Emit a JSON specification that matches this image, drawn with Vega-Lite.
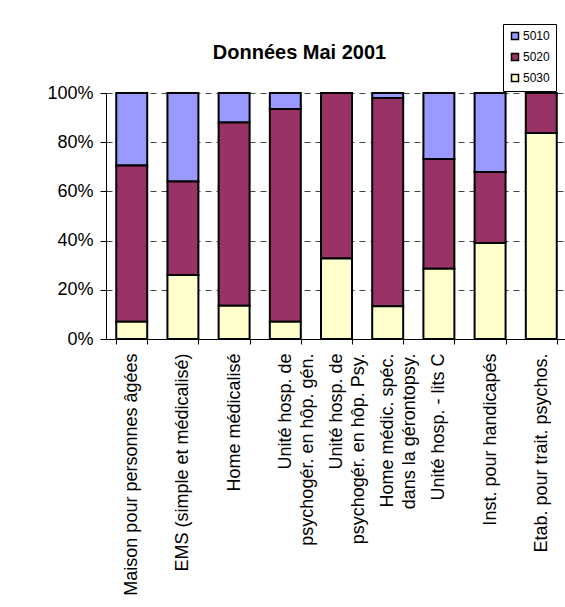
{
  "$schema": "https://vega.github.io/schema/vega-lite/v6.json",
  "autosize": "none",
  "width": 461,
  "height": 246,
  "padding": {"left": 106, "top": 93, "right": 0, "bottom": 268},
  "background": "white",
  "config": {
    "font": "Liberation Sans",
    "view": {"stroke": null}
  },
  "title": {
    "text": "Données Mai 2001",
    "font": "Liberation Sans",
    "fontSize": 20,
    "fontWeight": "bold",
    "color": "black",
    "anchor": "middle",
    "frame": "group",
    "dx": -37,
    "baseline": "alphabetic",
    "offset": -55
  },
  "data": {
    "values": [
      {"category": "Maison pour personnes âgées", "idx": 1, "series": "5010", "pct": 29.5},
      {"category": "Maison pour personnes âgées", "idx": 1, "series": "5020", "pct": 63.5},
      {"category": "Maison pour personnes âgées", "idx": 1, "series": "5030", "pct": 7},
      {"category": "EMS (simple et médicalisé)", "idx": 2, "series": "5010", "pct": 36},
      {"category": "EMS (simple et médicalisé)", "idx": 2, "series": "5020", "pct": 38},
      {"category": "EMS (simple et médicalisé)", "idx": 2, "series": "5030", "pct": 26},
      {"category": "Home médicalisé", "idx": 3, "series": "5010", "pct": 12},
      {"category": "Home médicalisé", "idx": 3, "series": "5020", "pct": 74.5},
      {"category": "Home médicalisé", "idx": 3, "series": "5030", "pct": 13.5},
      {"category": "Unité hosp. de|psychogér. en hôp. gén.", "idx": 4, "series": "5010", "pct": 6.5},
      {"category": "Unité hosp. de|psychogér. en hôp. gén.", "idx": 4, "series": "5020", "pct": 86.5},
      {"category": "Unité hosp. de|psychogér. en hôp. gén.", "idx": 4, "series": "5030", "pct": 7},
      {"category": "Unité hosp. de|psychogér. en hôp. Psy.", "idx": 5, "series": "5010", "pct": 0},
      {"category": "Unité hosp. de|psychogér. en hôp. Psy.", "idx": 5, "series": "5020", "pct": 67.3},
      {"category": "Unité hosp. de|psychogér. en hôp. Psy.", "idx": 5, "series": "5030", "pct": 32.7},
      {"category": "Home médic. spéc.|dans la gérontopsy.", "idx": 6, "series": "5010", "pct": 2},
      {"category": "Home médic. spéc.|dans la gérontopsy.", "idx": 6, "series": "5020", "pct": 84.7},
      {"category": "Home médic. spéc.|dans la gérontopsy.", "idx": 6, "series": "5030", "pct": 13.3},
      {"category": "Unité hosp. - lits C", "idx": 7, "series": "5010", "pct": 26.8},
      {"category": "Unité hosp. - lits C", "idx": 7, "series": "5020", "pct": 44.6},
      {"category": "Unité hosp. - lits C", "idx": 7, "series": "5030", "pct": 28.6},
      {"category": "Inst. pour handicapés", "idx": 8, "series": "5010", "pct": 32.1},
      {"category": "Inst. pour handicapés", "idx": 8, "series": "5020", "pct": 28.9},
      {"category": "Inst. pour handicapés", "idx": 8, "series": "5030", "pct": 39},
      {"category": "Etab. pour trait. psychos.", "idx": 9, "series": "5010", "pct": 0},
      {"category": "Etab. pour trait. psychos.", "idx": 9, "series": "5020", "pct": 16.3},
      {"category": "Etab. pour trait. psychos.", "idx": 9, "series": "5030", "pct": 83.7}
    ]
  },
  "mark": {"type": "bar", "stroke": "black", "strokeWidth": 2},
  "encoding": {
    "x": {
      "field": "category",
      "type": "nominal",
      "sort": {"field": "idx"},
      "scale": {"paddingInner": 0.395, "paddingOuter": 0.2},
      "axis": {
        "title": null,
        "labelAngle": -90,
        "labelAlign": "right",
        "labelBaseline": "middle",
        "labelExpr": "split(datum.label, '|')",
        "labelFont": "Liberation Sans",
        "labelFontSize": 18,
        "labelLineHeight": 22,
        "labelColor": "black",
        "labelPadding": 9,
        "labelLimit": 400,
        "tickBand": "extent",
        "tickSize": 5,
        "tickColor": "black",
        "domainColor": "black",
        "domainWidth": 1,
        "grid": false
      }
    },
    "y": {
      "field": "pct",
      "type": "quantitative",
      "stack": "normalize",
      "scale": {"domain": [0, 1], "nice": false},
      "axis": {
        "title": null,
        "values": [0, 0.2, 0.4, 0.6, 0.8, 1],
        "format": ".0%",
        "labelFont": "Liberation Sans",
        "labelFontSize": 18,
        "labelColor": "black",
        "labelPadding": 7,
        "tickSize": 6,
        "tickColor": "black",
        "domainColor": "black",
        "grid": true,
        "gridColor": "#444444",
        "gridDash": [6, 5],
        "gridWidth": 1
      }
    },
    "color": {
      "field": "series",
      "type": "nominal",
      "scale": {"domain": ["5010", "5020", "5030"], "range": ["#9999FF", "#993366", "#FFFFCC"]},
      "legend": {
        "title": null,
        "orient": "none",
        "legendX": 397,
        "legendY": -69,
        "direction": "vertical",
        "strokeColor": "black",
        "fillColor": "white",
        "padding": 6,
        "rowPadding": 7,
        "symbolType": "square",
        "symbolSize": 49,
        "symbolStrokeColor": "black",
        "symbolStrokeWidth": 1.5,
        "labelFont": "Liberation Sans",
        "labelFontSize": 12,
        "labelColor": "black",
        "labelOffset": 2
      }
    },
    "order": {"field": "series", "sort": "descending"}
  }
}
